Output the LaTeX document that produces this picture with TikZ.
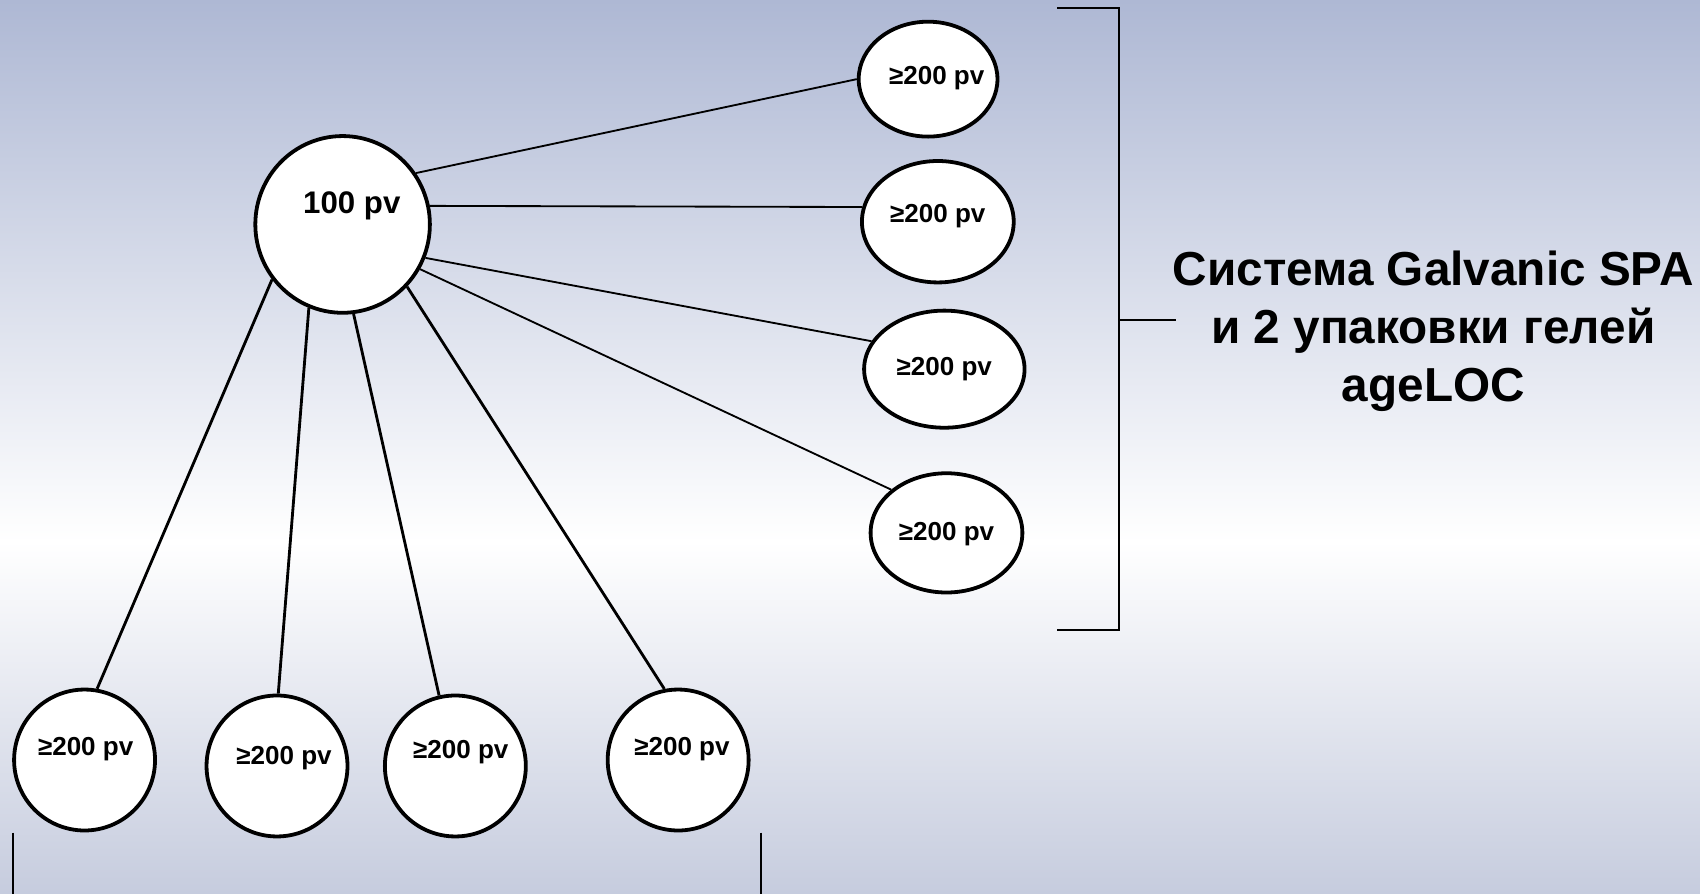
\documentclass[tikz,border=0pt]{standalone}
\usepackage{fontspec}
\setmainfont{Liberation Sans}
\usetikzlibrary{shapes.geometric}
\definecolor{bgtop}{RGB}{174,184,212}
\definecolor{bgbot}{RGB}{198,204,222}
\tikzset{
  bub/.style={ellipse, draw=black, fill=white, line width=1.75pt, inner sep=0pt},
  conr/.style={line width=0.85pt},
  conb/.style={line width=1.3pt},
  lbl/.style={font=\bfseries\fontsize{12}{14}\selectfont, inner sep=0pt},
  brk/.style={line width=1pt},
}
\begin{document}
\begin{tikzpicture}[x=0.5pt,y=-0.5pt]
\useasboundingbox (0,0) rectangle (1568,824);
\fill[top color=bgtop, bottom color=white] (0,0) rectangle (1568,500);
\fill[top color=white, bottom color=bgbot] (0,499) rectangle (1568,824);

% nodes
\node[bub, minimum width=80.5pt, minimum height=81.5pt] (c) at (316,207) {};
\node[lbl, font=\bfseries\fontsize{14.4}{16}\selectfont] (tc) at (324.5,190) {100 pv};

\node[bub, minimum width=64pt, minimum height=53pt] (r1) at (856,73) {};
\node[lbl] (tr1) at (864,72) {≥200 pv};
\node[bub, minimum width=70pt, minimum height=56pt] (r2) at (865,204.5) {};
\node[lbl] (tr2) at (865,199) {≥200 pv};
\node[bub, minimum width=74pt, minimum height=54pt] (r3) at (871,340.5) {};
\node[lbl] (tr3) at (871,340) {≥200 pv};
\node[bub, minimum width=70pt, minimum height=55pt] (r4) at (873,491.5) {};
\node[lbl] (tr4) at (873,493) {≥200 pv};

\node[bub, minimum width=65pt, minimum height=65pt] (b1) at (78,701) {};
\node[lbl] (tb1) at (79,691) {≥200 pv};
\node[bub, minimum width=65pt, minimum height=65pt] (b2) at (255.5,706.5) {};
\node[lbl] (tb2) at (262,699) {≥200 pv};
\node[bub, minimum width=65pt, minimum height=65pt] (b3) at (420,706.5) {};
\node[lbl] (tb3) at (425,694) {≥200 pv};
\node[bub, minimum width=65pt, minimum height=65pt] (b4) at (625.5,701) {};
\node[lbl] (tb4) at (629,691) {≥200 pv};

% connectors
\draw[conr] (c.35.5) -- (r1.180);
\draw[conr] (c.12.7) -- (r2.169);
\draw[conr] (c.-22) -- (r3.159.6);
\draw[conr] (c.-30.6) -- (r4.142);
\draw[conb] (c.218.3) -- (b1.80.7);
\draw[conb] (c.248.6) -- (b2.89);
\draw[conb] (c.277.8) -- (b3.103.8);
\draw[conb] (c.316.4) -- (b4.101.8);

% right bracket
\coordinate (bt) at (975,7);
\coordinate (bb) at (975,581);
\coordinate (bm) at (1032,295);
\coordinate (bme) at (1085,295);
\draw[brk] (bt) -| (bm) |- (bb);
\draw[brk] (bm) -- (bme);

\node[font=\bfseries\fontsize{22}{26.75}\selectfont, align=center, inner sep=0pt] (title) at (1322,306)
  {Система Galvanic SPA\\и 2 упаковки гелей\\ageLOC};

% bottom bracket
\begin{scope}
\clip (0,0) rectangle (1568,824);
\coordinate (ql) at (12,768);
\coordinate (qr) at (702,768);
\draw[brk] (ql) -- ++(0,70);
\draw[brk] (qr) -- ++(0,70);
\end{scope}
\end{tikzpicture}
\end{document}
